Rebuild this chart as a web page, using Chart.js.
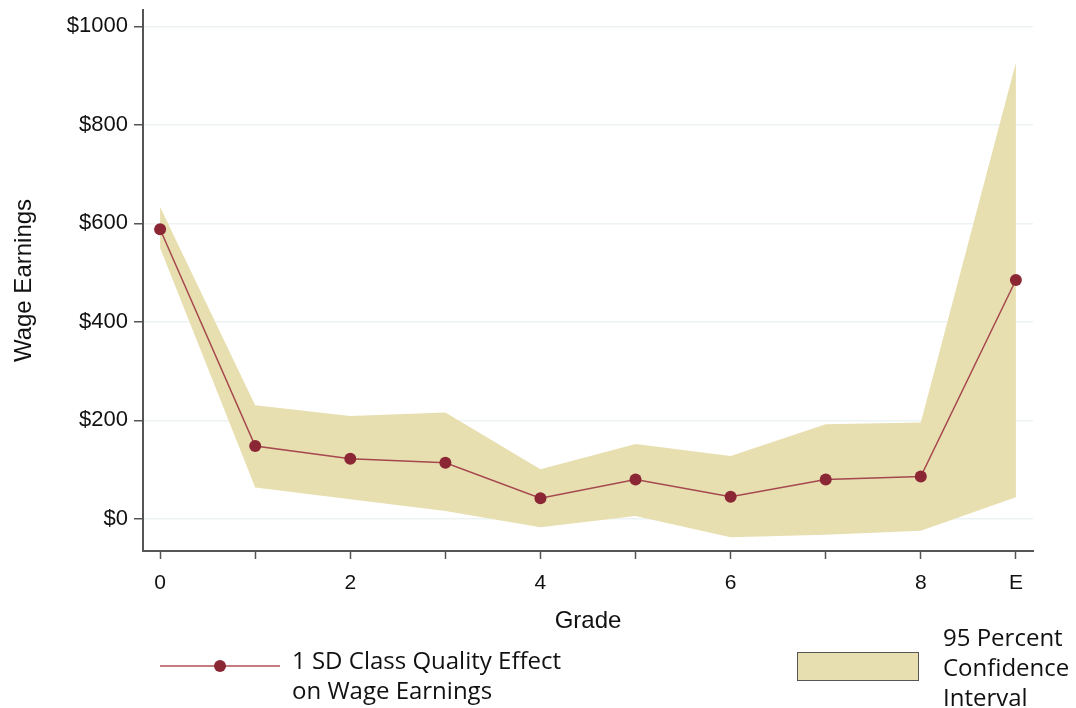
<!DOCTYPE html>
<html>
<head>
<meta charset="utf-8">
<script src="https://cdn.jsdelivr.net/npm/chart.js@4.4.1/dist/chart.umd.min.js"></script>
<style>
  html, body { margin: 0; padding: 0; background: #fff; }
  #wrap { position: relative; width: 1076px; height: 708px; overflow: hidden; }
  #chart { position: absolute; left: 0; top: 0; }
  .leg { position: absolute; font-family: "Liberation Sans Narrow", "Open Sans", sans-serif; font-size: 24px; color: #111; line-height: 30px; white-space: nowrap; }
  .legLine { position: absolute; left: 160px; top: 665px; width: 120px; height: 2px; background: #c27c82; }
  .legDot { position: absolute; left: 214px; top: 660px; width: 12px; height: 12px; border-radius: 50%; background: #8b2635; }
  .legBox { position: absolute; left: 797px; top: 652px; width: 120px; height: 27px; background: #e8dfb0; border: 1px solid #555; }
</style>
</head>
<body>
<div id="wrap">
  <canvas id="chart" width="1076" height="708"></canvas>
  <div class="legLine"></div>
  <div class="legDot"></div>
  <div class="leg" style="left:292px; top:645px;">1 SD Class Quality Effect<br>on Wage Earnings</div>
  <div class="legBox"></div>
  <div class="leg" style="left:943px; top:622px;">95 Percent<br>Confidence<br>Interval</div>
</div>
<script>
// grade 9 is shown as "E" on the axis
const grades = [0, 1, 2, 3, 4, 5, 6, 7, 8, 9];
const gradeLabels = ['0', '', '2', '', '4', '', '6', '', '8', 'E'];
const effect = [588, 148, 122, 114, 42, 80, 45, 80, 86, 485];
const ciUpper = [633, 231, 209, 216, 101, 152, 128, 192, 196, 926];
const ciLower = [550, 64, 40, 16, -17, 6, -37, -32, -24, 44];
const yTicks = [0, 200, 400, 600, 800, 1000];

const bandColor = '#e8dfb0';
const lineColor = '#a5484f';
const dotColor = '#8b2635';
const axisColor = '#555';

function pts(vals) {
    return grades.map((g, i) => ({ x: g, y: vals[i] }));
}

Chart.defaults.font.family = '"Liberation Sans", Arial, sans-serif';
Chart.defaults.color = '#111';

const ctx = document.getElementById('chart').getContext('2d');
new Chart(ctx, {
    type: 'line',
    data: {
        datasets: [
            {
                label: '1 SD Class Quality Effect on Wage Earnings',
                data: pts(effect),
                borderColor: lineColor,
                borderWidth: 1.5,
                pointRadius: 6,
                pointBackgroundColor: dotColor,
                pointBorderColor: dotColor,
                pointBorderWidth: 0,
                tension: 0,
                fill: false
            },
            {
                label: '95 Percent Confidence Interval',
                data: pts(ciUpper),
                borderWidth: 0,
                pointRadius: 0,
                backgroundColor: bandColor,
                tension: 0,
                fill: '+1'
            },
            {
                label: 'lower',
                data: pts(ciLower),
                borderWidth: 0,
                pointRadius: 0,
                tension: 0,
                fill: false
            }
        ]
    },
    options: {
        responsive: false,
        animation: false,
        layout: { padding: { top: 10, right: 43, bottom: 70, left: 0 } },
        plugins: {
            legend: { display: false },
            tooltip: { enabled: false }
        },
        scales: {
            x: {
                type: 'linear',
                min: -0.18,
                max: 9.18,
                afterBuildTicks: (s) => { s.ticks = grades.map(v => ({ value: v })); },
                afterFit: (s) => { s.height = 87; },
                ticks: {
                    autoSkip: false,
                    maxRotation: 0,
                    padding: 12,
                    font: { size: 21 },
                    callback: (v) => gradeLabels[grades.indexOf(v)]
                },
                grid: { drawOnChartArea: false, tickLength: 8, tickColor: axisColor, tickWidth: 1.5 },
                border: { color: axisColor, width: 2 },
                title: { display: true, text: 'Grade', font: { size: 24 }, padding: { top: 0, bottom: 2 } }
            },
            y: {
                min: -65,
                max: 1033,
                afterBuildTicks: (s) => { s.ticks = yTicks.map(v => ({ value: v })); },
                afterFit: (s) => { s.width = 143; s.paddingTop = 0; s.paddingBottom = 0; },
                ticks: {
                    padding: 6,
                    font: { size: 22 },
                    callback: (v) => '$' + v
                },
                grid: { color: '#edf3f3', lineWidth: 1.5, tickLength: 9, tickColor: axisColor, tickWidth: 1.5 },
                border: { color: axisColor, width: 2 },
                title: { display: true, text: 'Wage Earnings', font: { size: 24 }, padding: { top: 10, bottom: 0 } }
            }
        }
    }
});
</script>
</body>
</html>
